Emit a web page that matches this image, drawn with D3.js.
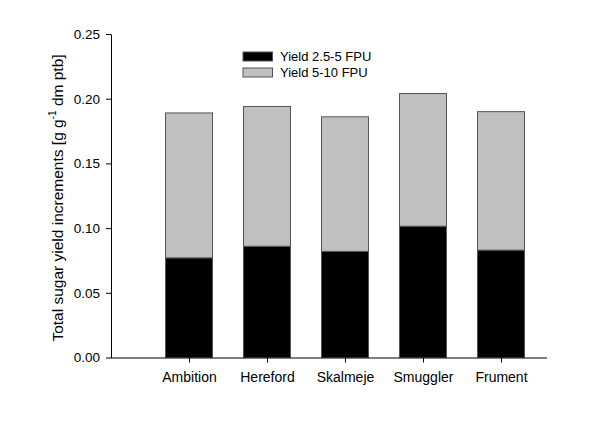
<!DOCTYPE html>
<html>
<head>
<meta charset="utf-8">
<script src="https://cdn.jsdelivr.net/npm/d3@7"></script>
<style>
  body { margin: 0; background: #fff; }
  svg { font-family: Arial, "Liberation Sans", sans-serif; }
</style>
</head>
<body>
<div id="chart"></div>
<script>
const cultivars = ["Ambition", "Hereford", "Skalmeje", "Smuggler", "Frument"];
const yieldLow = [0.077, 0.086, 0.082, 0.1015, 0.083];   // 2.5-5 FPU
const yieldHigh = [0.112, 0.108, 0.104, 0.1025, 0.107];  // 5-10 FPU increment on top
const yTicks = [0, 0.05, 0.10, 0.15, 0.20, 0.25];
const seriesNames = ["Yield 2.5-5 FPU", "Yield 5-10 FPU"];
const seriesColors = ["#000000", "#c0c0c0"];

const width = 600, height = 429;
const mLeft = 111, mRight = 547, mTop = 34, mBottom = 357.5;

const svg = d3.select("#chart").append("svg")
    .attr("width", width)
    .attr("height", height);

const x = d3.scaleLinear().domain([0, 5.59]).range([mLeft, mRight]);
const y = d3.scaleLinear().domain([0, 0.25]).range([mBottom, mTop]);
const barW = 47;

// stack the two series
const rows = cultivars.map((c, i) => ({ name: c, i: i, low: yieldLow[i], high: yieldHigh[i] }));
const stacked = d3.stack().keys(["low", "high"])(rows);

svg.append("g")
    .selectAll("g")
    .data(stacked)
    .join("g")
    .attr("fill", (d, k) => seriesColors[k])
    .selectAll("rect")
    .data(d => d)
    .join("rect")
    .attr("x", d => x(d.data.i + 1) - barW / 2)
    .attr("width", barW)
    .attr("y", d => y(d[1]))
    .attr("height", d => y(d[0]) - y(d[1]))
    .attr("stroke", "#555")
    .attr("stroke-width", 1);

// y axis
const yAxis = svg.append("g")
    .attr("transform", `translate(${mLeft},0)`)
    .call(d3.axisLeft(y).tickValues(yTicks).tickFormat(d3.format(".2f"))
        .tickSize(5).tickSizeOuter(0).tickPadding(6));
yAxis.select(".domain").attr("stroke", "#000");
yAxis.selectAll("text").attr("font-size", 13.5).attr("fill", "#000")
    .attr("font-family", "Arial, 'Liberation Sans', sans-serif");

// x axis
const xAxis = svg.append("g")
    .attr("transform", `translate(0,${mBottom})`)
    .call(d3.axisBottom(x).tickValues(d3.range(1, cultivars.length + 1))
        .tickFormat(d => cultivars[d - 1]).tickSize(5).tickSizeOuter(0));
xAxis.select(".domain").attr("d", `M${mLeft},0.5H${mRight}`).attr("stroke", "#000");
xAxis.selectAll("text").attr("font-size", 14).attr("fill", "#000").attr("y", 15)
    .attr("font-family", "Arial, 'Liberation Sans', sans-serif");

// y title
const yt = svg.append("text")
    .attr("transform", `translate(63,198) rotate(-90)`)
    .attr("text-anchor", "middle")
    .attr("font-size", 15.5)
    .attr("fill", "#000");
yt.append("tspan").text("Total sugar yield increments [g g");
yt.append("tspan").text("-1").attr("font-size", 10).attr("dy", -7);
yt.append("tspan").text(" dm ptb]").attr("dy", 7);

// legend
const legend = svg.append("g")
    .selectAll("g")
    .data(seriesNames)
    .join("g")
    .attr("transform", (d, k) => `translate(243,${52 + k * 16})`);
legend.append("rect")
    .attr("width", 29.5)
    .attr("height", 9)
    .attr("fill", (d, k) => seriesColors[k])
    .attr("stroke", "#555");
legend.append("text")
    .attr("x", 37)
    .attr("y", 4.5)
    .attr("dy", "0.36em")
    .attr("font-size", 13)
    .attr("fill", "#000")
    .text(d => d);
</script>
</body>
</html>
